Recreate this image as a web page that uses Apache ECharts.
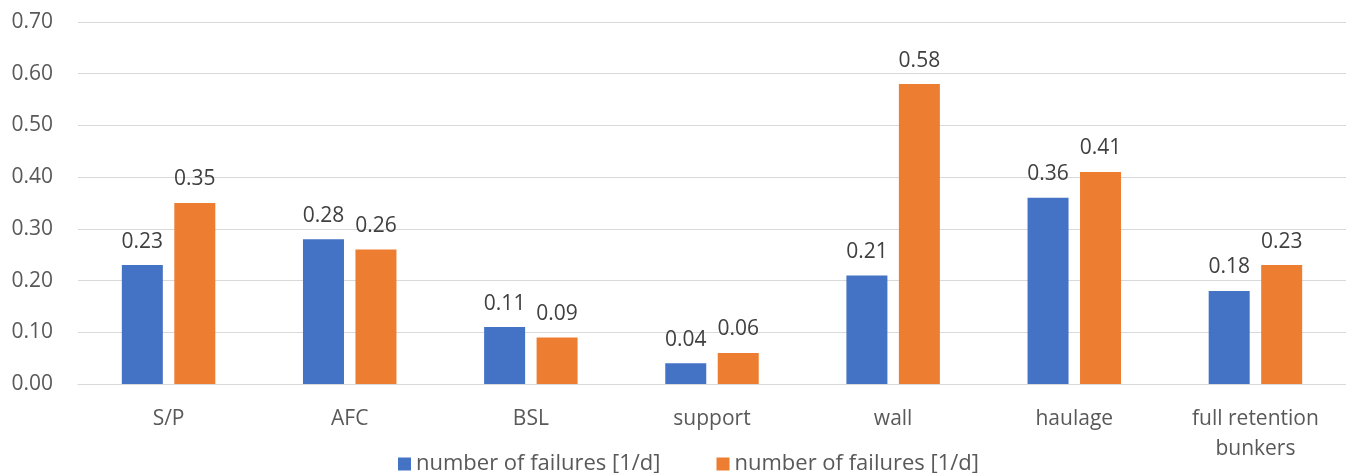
<!DOCTYPE html>
<html>
<head>
<meta charset="utf-8">
<script src="https://cdn.jsdelivr.net/npm/echarts@6/dist/echarts.min.js"></script>
<style>
  html, body { margin: 0; padding: 0; background: #ffffff; }
  #chart { width: 1346px; height: 473px; }
</style>
</head>
<body>
<div id="chart"></div>
<script>
// Failure rates per longwall component
const categories = ['S/P', 'AFC', 'BSL', 'support', 'wall', 'haulage', 'full retention\nbunkers'];
const seriesNames = ['number of failures [1/d]', 'number of failures [1/d]'];
const seriesA = [0.23, 0.28, 0.11, 0.04, 0.21, 0.36, 0.18];
const seriesB = [0.35, 0.26, 0.09, 0.06, 0.58, 0.41, 0.23];
const yTicks = { min: 0, max: 0.7, interval: 0.1 };

const font = '"Open Sans", "Liberation Sans", sans-serif';
const chart = echarts.init(document.getElementById('chart'));

const labelStyle = {
  show: true,
  position: 'top',
  distance: 13,
  color: '#404040',
  fontFamily: font,
  fontSize: 21,
  formatter: p => p.value.toFixed(2)
};

chart.setOption({
  animation: false,
  grid: { left: 78, right: 0, top: 22, bottom: 89, containLabel: false },
  legend: {
    top: 448,
    left: 393,
    itemWidth: 13,
    itemHeight: 13,
    itemGap: 56,
    icon: 'rect',
    textStyle: { color: '#595959', fontFamily: font, fontSize: 22 },
    data: [
      { name: 'A', icon: 'rect' },
      { name: 'B', icon: 'rect' }
    ],
    formatter: n => n === 'A' ? seriesNames[0] : seriesNames[1]
  },
  xAxis: {
    type: 'category',
    data: categories,
    axisLine: { lineStyle: { color: '#d9d9d9', width: 1 } },
    axisTick: { show: false },
    axisLabel: {
      color: '#595959',
      fontFamily: font,
      fontSize: 21,
      margin: 20,
      lineHeight: 30
    }
  },
  yAxis: {
    type: 'value',
    min: yTicks.min,
    max: yTicks.max,
    interval: yTicks.interval,
    axisLine: { show: false },
    axisTick: { show: false },
    splitLine: { lineStyle: { color: '#d9d9d9', width: 1 } },
    axisLabel: {
      color: '#595959',
      fontFamily: font,
      fontSize: 21,
      margin: 25,
      formatter: v => v.toFixed(2)
    }
  },
  series: [
    {
      name: 'A',
      type: 'bar',
      data: seriesA,
      barWidth: 41,
      barGap: '28%',
      itemStyle: { color: '#4472c4' },
      label: labelStyle
    },
    {
      name: 'B',
      type: 'bar',
      data: seriesB,
      barWidth: 41,
      barGap: '28%',
      itemStyle: { color: '#ed7d31' },
      label: labelStyle
    }
  ]
});
</script>
</body>
</html>
